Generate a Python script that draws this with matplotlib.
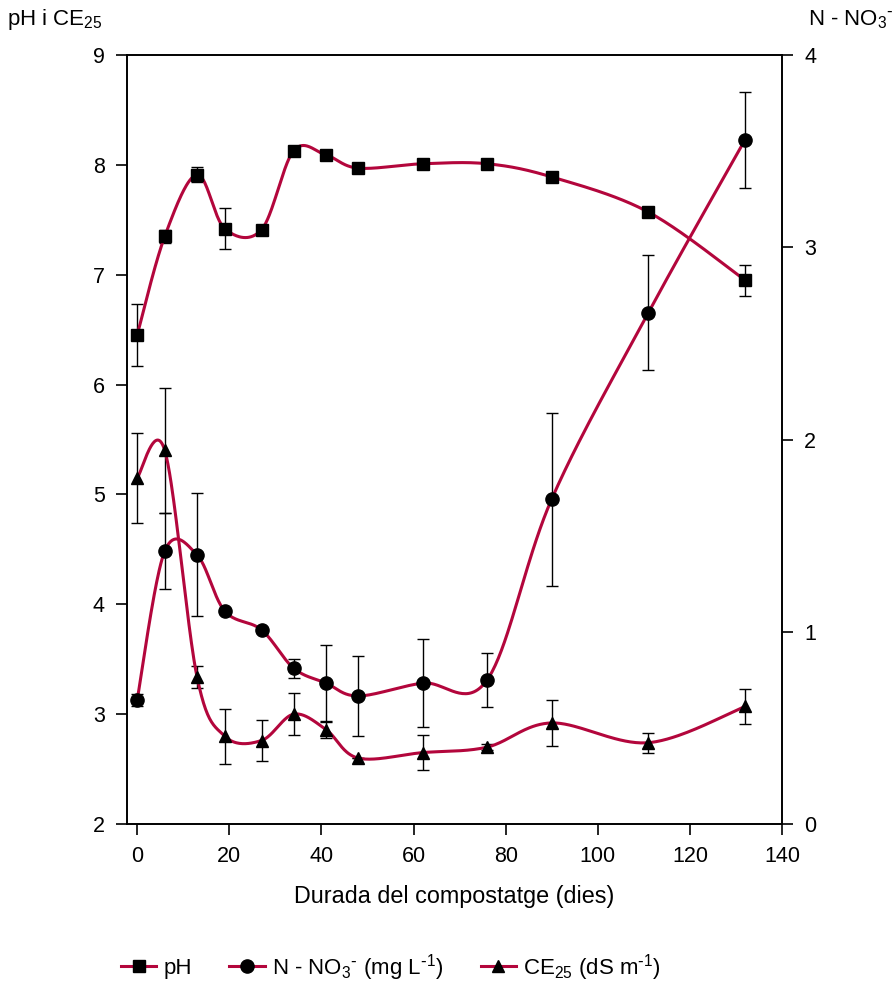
import numpy as np
import matplotlib
matplotlib.use("Agg")
import matplotlib.pyplot as plt
from matplotlib.lines import Line2D

plt.rcParams['font.family'] = ['Liberation Sans', 'DejaVu Sans']
plt.rcParams['mathtext.default'] = 'regular'

# dies de compostatge
dies = [0, 6, 13, 19, 27, 34, 41, 48, 62, 76, 90, 111, 132]

ph = [6.45, 7.35, 7.91, 7.42, 7.41, 8.13, 8.09, 7.97, 8.01, 8.01, 7.89, 7.57, 6.95]
ph_err = [0.28, 0.06, 0.07, 0.19, 0.03, 0.0, 0.0, 0.0, 0.0, 0.0, 0.0, 0.0, 0.14]

no3 = [0.645, 1.42, 1.40, 1.108, 1.01, 0.81, 0.733, 0.666, 0.733, 0.75, 1.69, 2.66, 3.56]
no3_err = [0.03, 0.20, 0.32, 0.0, 0.0, 0.05, 0.20, 0.21, 0.23, 0.14, 0.45, 0.30, 0.25]

ce = [5.15, 5.40, 3.34, 2.80, 2.76, 3.0, 2.86, 2.60, 2.65, 2.70, 2.92, 2.74, 3.07]
ce_err = [0.41, 0.57, 0.10, 0.25, 0.19, 0.19, 0.08, 0.0, 0.16, 0.03, 0.21, 0.09, 0.16]

line_col = '#b3063c'


def smooth(x, y, n=40):
    # corba suau tipus Catmull-Rom (com la linia suavitzada d'Excel)
    p = np.column_stack([x, y]).astype(float)
    p = np.vstack([p[0], p, p[-1]])
    t = np.linspace(0, 1, n)[:, None]
    out = []
    for i in range(1, len(p) - 2):
        p0, p1, p2, p3 = p[i - 1], p[i], p[i + 1], p[i + 2]
        c = 0.5 * ((2 * p1) + (-p0 + p2) * t + (2 * p0 - 5 * p1 + 4 * p2 - p3) * t ** 2
                   + (-p0 + 3 * p1 - 3 * p2 + p3) * t ** 3)
        out.append(c)
    out = np.vstack(out)
    return out[:, 0], out[:, 1]


fig = plt.figure(figsize=(8.94, 9.82), dpi=100)
ax = fig.add_axes([127 / 894, 158 / 982, 655 / 894, 769 / 982])
ax2 = ax.twinx()

def draw(a, y, e, marker, ms):
    a.errorbar(dies, y, yerr=e, fmt='none', ecolor='black', elinewidth=1, capsize=4, capthick=1, zorder=2)
    sx, sy = smooth(dies, y)
    a.plot(sx, sy, color=line_col, lw=2.2, zorder=3)
    a.plot(dies, y, ls='none', marker=marker, color='black', ms=ms, zorder=4)

draw(ax, ph, ph_err, 's', 8.5)
draw(ax, ce, ce_err, '^', 9)
draw(ax2, no3, no3_err, 'o', 9.5)

ax.set_xlim(-2.2, 140)
ax.set_ylim(2, 9)
ax2.set_ylim(0, 4)
ax.set_xticks(range(0, 141, 20))
ax.set_yticks(range(2, 10))
ax2.set_yticks(range(0, 5))

for a in (ax, ax2):
    a.tick_params(direction='out', length=8, width=1.2, labelsize=15.5, pad=8, colors='black')
    for s in a.spines.values():
        s.set_linewidth(1.2)

ax.set_xlabel('Durada del compostatge (dies)', fontsize=16.8, labelpad=13)

fig.text(7 / 894, 1 - 20 / 982, r'pH i CE$_{25}$', fontsize=16, va='center', ha='left')
fig.text(808 / 894, 1 - 20 / 982, r'N - NO$_3$$^{\text{-}}$', fontsize=16, va='center', ha='left')

handles = [
    Line2D([], [], color=line_col, lw=2.2, marker='s', mfc='black', mec='black', ms=8.5),
    Line2D([], [], color=line_col, lw=2.2, marker='o', mfc='black', mec='black', ms=9.5),
    Line2D([], [], color=line_col, lw=2.2, marker='^', mfc='black', mec='black', ms=9),
]
labels = ['pH', r'N - NO$_3$$^{\text{-}}$ (mg L$^{\text{-}1}$)', r'CE$_{25}$ (dS m$^{\text{-}1}$)']
fig.legend(handles, labels, loc='center', bbox_to_anchor=(0.437, 0.015), ncol=3,
           frameon=False, fontsize=16, handlelength=1.6, handletextpad=0.3, columnspacing=1.7)

fig.savefig('out.png', dpi=100)
